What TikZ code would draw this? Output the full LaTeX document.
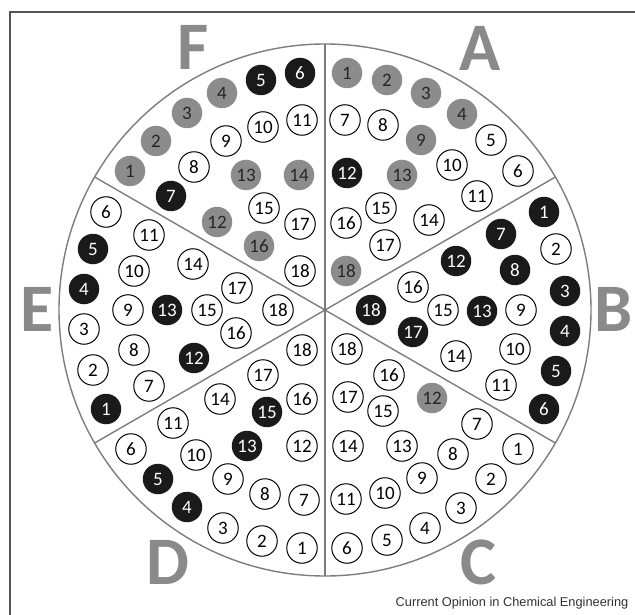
\documentclass[tikz,border=0pt]{standalone}
\usepackage{fontspec}
\setmainfont{Carlito}
\newfontfamily\captionfont{Liberation Sans}
\usetikzlibrary{calc}
\definecolor{spotgray}{RGB}{140, 140, 140}
\definecolor{spotblack}{RGB}{26, 26, 26}
\definecolor{wheelgray}{RGB}{125, 125, 125}
\definecolor{framegray}{RGB}{85, 85, 85}
\definecolor{lettergray}{RGB}{138, 138, 138}
\definecolor{captiongray}{RGB}{50, 50, 50}
\tikzset{
  spot/.style={
    circle, inner sep=0pt, minimum size=30.5pt,
    font=\fontsize{19}{19}\selectfont
  },
  whitespot/.style={
    spot, draw=black, line width=1pt, fill=white, text=black
  },
  grayspot/.style={
    spot, fill=spotgray, text=black!85
  },
  blackspot/.style={
    spot, fill=spotblack, text=white
  },
  divider/.style={
    draw=wheelgray, line width=1.4pt
  },
  sectorlabel/.style={
    anchor=base, inner sep=0pt, text=lettergray,
    font=\fontsize{68}{68}\selectfont\bfseries
  }
}

\begin{document}
\begin{tikzpicture}[x=1pt, y=-1pt]

  \useasboundingbox (0,0) rectangle (635,615);

  % ── Frame ──────────────────────────────────────────────
  \draw[framegray, line width=1.5pt] (10,615) -- (10,12) -- (635,12);

  % ── Wheel and sector dividers ──────────────────────────
  \coordinate (hub) at (325,310);
  \draw[divider] (hub) circle[radius=266];
  \foreach \a in {90, 150, 210, 270, 330, 30}{
    \coordinate (rim\a) at ($(hub)+(\a:266)$);
    \draw[divider] (hub) -- (rim\a);
  }

  % ── Sector A ───────────────────────────────────────────
  \foreach \n/\x/\y/\k in {
      1/347/73/grayspot, 2/387/80/grayspot, 3/426/93/grayspot,
      4/462/114/grayspot, 5/491/140/whitespot, 6/518/171/whitespot,
      7/345/120/whitespot, 8/383/125/whitespot, 9/421/140/grayspot,
      10/452/165/whitespot, 11/477/196/whitespot, 12/347/173/blackspot,
      13/402/175/grayspot, 14/429/220/whitespot, 15/381/208/whitespot,
      16/346/223/whitespot, 17/385/245/whitespot, 18/346/271/grayspot}{
    \node[\k] (a\n) at (\x,\y) {\n};
  }

  % ── Sector B ───────────────────────────────────────────
  \foreach \n/\x/\y/\k in {
      1/544/212/blackspot, 2/556/249/whitespot, 3/565/291/blackspot,
      4/565/331/blackspot, 5/556/371/blackspot, 6/544/409/blackspot,
      7/501/234/blackspot, 8/515/270/blackspot, 9/521/310/whitespot,
      10/515/349/whitespot, 11/501/385/whitespot, 12/456/261/blackspot,
      13/482/311/blackspot, 14/456/356/whitespot, 15/443/310/whitespot,
      16/413/287/whitespot, 17/413/332/blackspot, 18/371/310/blackspot}{
    \node[\k] (b\n) at (\x,\y) {\n};
  }

  % ── Sector C ───────────────────────────────────────────
  \foreach \n/\x/\y/\k in {
      1/518/449/whitespot, 2/491/479/whitespot, 3/461/508/whitespot,
      4/425/528/whitespot, 5/387/540/whitespot, 6/347/548/whitespot,
      7/477/424/whitespot, 8/453/454/whitespot, 9/422/478/whitespot,
      10/385/493/whitespot, 11/346/499/whitespot, 12/432/398/grayspot,
      13/402/446/whitespot, 14/348/446/whitespot, 15/383/411/whitespot,
      16/389/375/whitespot, 17/348/397/whitespot, 18/347/349/whitespot}{
    \node[\k] (c\n) at (\x,\y) {\n};
  }

  % ── Sector D ───────────────────────────────────────────
  \foreach \n/\x/\y/\k in {
      1/302/548/whitespot, 2/262/541/whitespot, 3/223/528/whitespot,
      4/187/507/blackspot, 5/158/479/blackspot, 6/131/449/whitespot,
      7/304/500/whitespot, 8/265/494/whitespot, 9/228/479/whitespot,
      10/196/455/whitespot, 11/173/423/whitespot, 12/302/446/whitespot,
      13/247/446/blackspot, 14/220/399/whitespot, 15/267/412/blackspot,
      16/302/399/whitespot, 17/263/375/whitespot, 18/302/350/whitespot}{
    \node[\k] (d\n) at (\x,\y) {\n};
  }

  % ── Sector E ───────────────────────────────────────────
  \foreach \n/\x/\y/\k in {
      1/106/409/blackspot, 2/93/370/whitespot, 3/84/329/whitespot,
      4/84/289/blackspot, 5/93/249/blackspot, 6/106/212/whitespot,
      7/149/386/whitespot, 8/134/350/whitespot, 9/128/310/whitespot,
      10/134/271/whitespot, 11/149/235/whitespot, 12/194/358/blackspot,
      13/167/310/blackspot, 14/193/264/whitespot, 15/207/310/whitespot,
      16/236/333/whitespot, 17/237/288/whitespot, 18/278/310/whitespot}{
    \node[\k] (e\n) at (\x,\y) {\n};
  }

  % ── Sector F ───────────────────────────────────────────
  \foreach \n/\x/\y/\k in {
      1/130/171/grayspot, 2/156/141/grayspot, 3/187/113/grayspot,
      4/222/93/grayspot, 5/261/80/blackspot, 6/300/73/blackspot,
      7/171/196/blackspot, 8/194/167/whitespot, 9/226/141/whitespot,
      10/263/127/whitespot, 11/302/120/whitespot, 12/217/222/grayspot,
      13/246/175/grayspot, 14/299/175/grayspot, 15/264/208/whitespot,
      16/259/246/grayspot, 17/300/224/whitespot, 18/300/271/whitespot}{
    \node[\k] (f\n) at (\x,\y) {\n};
  }

  % ── Sector letters ─────────────────────────────────────
  \node[sectorlabel] (labA) at (480,70.5) {A};
  \node[sectorlabel] (labB) at (614,331) {B};
  \node[sectorlabel] (labC) at (478,584) {C};
  \node[sectorlabel] (labD) at (167.5,584) {D};
  \node[sectorlabel] (labE) at (37,331) {E};
  \node[sectorlabel] (labF) at (193,70) {F};

  % ── Caption ────────────────────────────────────────────
  \node[anchor=base east, inner sep=0pt, text=captiongray,
        font=\captionfont\fontsize{12.8}{12.8}\selectfont]
    (caption) at (628.5,606.5) {Current Opinion in Chemical Engineering};

\end{tikzpicture}
\end{document}
